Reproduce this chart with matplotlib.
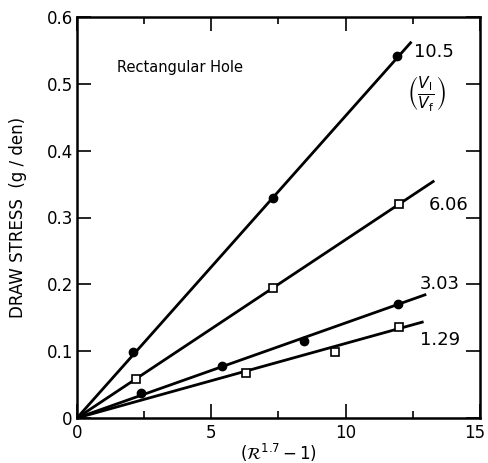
import matplotlib
matplotlib.use("Agg")
import matplotlib.pyplot as plt
from matplotlib.ticker import MultipleLocator
from matplotlib.transforms import ScaledTranslation

# ─── DATA ─────────────────────────────────────────────────────────────────────
# draw ratio (V1/Vf) for each series
ratios = ["10.5", "6.06", "3.03", "1.29"]
# measured points
x_105 = [2.1, 7.3, 11.9]
y_105 = [0.099, 0.329, 0.542]
x_606 = [2.2, 7.3, 12.0]
y_606 = [0.059, 0.194, 0.320]
x_303 = [2.4, 5.4, 8.45, 11.95]
y_303 = [0.038, 0.078, 0.115, 0.170]
x_129 = [6.3, 9.6, 12.0]
y_129 = [0.067, 0.099, 0.136]
# fitted lines, from origin to end point
fit_x_end = [12.45, 13.3, 13.0, 12.9]
fit_y_end = [0.563, 0.355, 0.185, 0.144]
xticks = [0, 5, 10, 15]
yticks = [0, 0.1, 0.2, 0.3, 0.4, 0.5, 0.6]
yticklabels = ["0", "0.1", "0.2", "0.3", "0.4", "0.5", "0.6"]

# ─── PLOTTING ─────────────────────────────────────────────────────────────────
plt.rcParams["font.family"] = "DejaVu Sans"
plt.rcParams["mathtext.fontset"] = "dejavusans"
fig = plt.figure(figsize=(4.89, 4.63), dpi=100)
ax = fig.add_axes([77 / 489, 1 - 418 / 463, (480 - 77) / 489, (418 - 17) / 463])

for xe, ye in zip(fit_x_end, fit_y_end):
    ax.plot([0, xe], [0, ye], color="black", lw=2, solid_capstyle="butt")

filled = dict(marker="o", ms=6, mfc="black", mec="black", ls="none")
hollow = dict(marker="s", ms=5.5, mfc="white", mec="black", mew=1.2, ls="none")
ax.plot(x_105, y_105, **filled)
ax.plot(x_606, y_606, **hollow)
ax.plot(x_303, y_303, **filled)
ax.plot(x_129, y_129, **hollow)

# series labels
ax.text(12.55, 0.548, ratios[0], fontsize=13, va="center", ha="left")
ax.text(12.3, 0.485, r"$\left(\frac{V_\mathrm{l}}{V_\mathrm{f}}\right)$", fontsize=16,
        va="center", ha="left")
ax.text(13.1, 0.318, ratios[1], fontsize=13, va="center", ha="left")
ax.text(12.75, 0.201, ratios[2], fontsize=13, va="center", ha="left")
ax.text(12.75, 0.117, ratios[3], fontsize=13, va="center", ha="left")
ax.text(1.5, 0.525, "Rectangular Hole", fontsize=10.5, va="center", ha="left")

ax.set_xlim(0, 15)
ax.set_ylim(0, 0.6)
ax.set_xticks(xticks)
ax.set_xticklabels([str(t) for t in xticks])
ax.xaxis.set_minor_locator(MultipleLocator(2.5))
ax.set_yticks(yticks)
ax.set_yticklabels(yticklabels)
ax.tick_params(which="both", direction="in", top=True, right=True,
               labelsize=12, width=1.2, pad=3)
ax.tick_params(axis="x", pad=4)
ax.tick_params(which="major", length=10)
ax.tick_params(which="minor", length=5)
for s in ax.spines.values():
    s.set_linewidth(1.8)

# nudge the last x label so it stays inside the figure
last = ax.get_xticklabels()[-1]
last.set_transform(last.get_transform() + ScaledTranslation(-0.05, 0, fig.dpi_scale_trans))

ax.set_ylabel("DRAW STRESS  (g / den)", fontsize=12, labelpad=14)
ax.set_xlabel(r"$(\mathcal{R}^{1.7}-1)$", fontsize=12, labelpad=0)

plt.savefig("out.png", dpi=100)
